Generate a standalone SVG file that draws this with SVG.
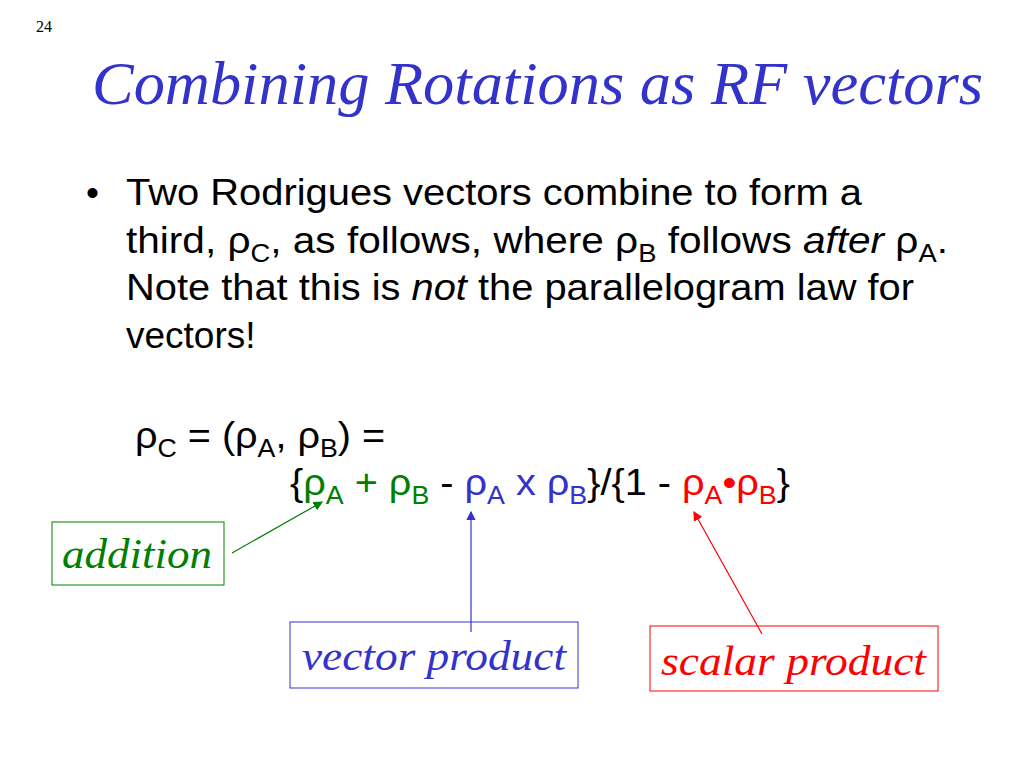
<svg xmlns="http://www.w3.org/2000/svg" width="1024" height="768" viewBox="0 0 1024 768">
<style>
.s{font-family:"Liberation Sans",Arial,sans-serif;font-size:37px;fill:#000}
.r{font-family:"Liberation Serif","Times New Roman",serif;font-style:italic}
.sub{font-size:25px}
.g{fill:#008000}.b{fill:#3333CC}.red{fill:#FF0000}
</style>
<defs>
<marker id="ag" markerWidth="8" markerHeight="8" refX="7" refY="4" orient="auto"><path d="M0,0L8,4L0,8z" fill="#008000"/></marker>
<marker id="ab" markerWidth="8" markerHeight="8" refX="7" refY="4" orient="auto"><path d="M0,0L8,4L0,8z" fill="#3333CC"/></marker>
<marker id="ar" markerWidth="8" markerHeight="8" refX="7" refY="4" orient="auto"><path d="M0,0L8,4L0,8z" fill="#FF0000"/></marker>
</defs>
<rect width="1024" height="768" fill="#fff"/>
<text x="36" y="32" font-family="Liberation Serif,serif" font-size="16">24</text>
<text x="92" y="104" class="r" font-size="61" fill="#3333CC" textLength="891" lengthAdjust="spacingAndGlyphs">Combining Rotations as RF vectors</text>
<g id="bullet">
<text x="86" y="205" class="s">•</text>
<text x="126" y="205" class="s" textLength="736" lengthAdjust="spacingAndGlyphs">Two Rodrigues vectors combine to form a</text>
<text x="126" y="253" class="s" textLength="822" lengthAdjust="spacingAndGlyphs">third, ρ<tspan class="sub" dy="9">C</tspan><tspan dy="-9">, as follows, where ρ</tspan><tspan class="sub" dy="9">B</tspan><tspan dy="-9"> follows </tspan><tspan font-style="italic">after</tspan> ρ<tspan class="sub" dy="9">A</tspan><tspan dy="-9">.</tspan></text>
<text x="126" y="300" class="s" textLength="788" lengthAdjust="spacingAndGlyphs">Note that this is <tspan font-style="italic">not</tspan> the parallelogram law for</text>
<text x="126" y="348" class="s">vectors!</text>
</g>
<g id="formula">
<text x="135" y="448" class="s" textLength="250" lengthAdjust="spacingAndGlyphs">ρ<tspan class="sub" dy="9">C</tspan><tspan dy="-9"> = (ρ</tspan><tspan class="sub" dy="9">A</tspan><tspan dy="-9">, ρ</tspan><tspan class="sub" dy="9">B</tspan><tspan dy="-9">) =</tspan></text>
<text x="290" y="495" class="s" textLength="500" lengthAdjust="spacingAndGlyphs">{<tspan class="g">ρ</tspan><tspan class="g sub" dy="9">A</tspan><tspan class="g" dy="-9"> + ρ</tspan><tspan class="g sub" dy="9">B</tspan><tspan dy="-9"> - </tspan><tspan class="b">ρ</tspan><tspan class="b sub" dy="9">A</tspan><tspan class="b" dy="-9"> x ρ</tspan><tspan class="b sub" dy="9">B</tspan><tspan dy="-9">}/{1 - </tspan><tspan class="red">ρ</tspan><tspan class="red sub" dy="9">A</tspan><tspan class="red" dy="-9">•ρ</tspan><tspan class="red sub" dy="9">B</tspan><tspan dy="-9">}</tspan></text>
</g>
<g id="addition"><rect x="52" y="522" width="172" height="63" fill="none" stroke="#008000"/><text x="62" y="568" class="r" font-size="42" fill="#008000" textLength="150" lengthAdjust="spacingAndGlyphs">addition</text></g>
<g id="vector"><rect x="290" y="622" width="288" height="66" fill="none" stroke="#3333CC"/><text x="302" y="670" class="r" font-size="42" fill="#3333CC" textLength="264" lengthAdjust="spacingAndGlyphs">vector product</text></g>
<g id="scalar"><rect x="650" y="626" width="288" height="65" fill="none" stroke="#FF0000"/><text x="661" y="675" class="r" font-size="42" fill="#FF0000" textLength="265" lengthAdjust="spacingAndGlyphs">scalar product</text></g>
<g id="connectors" stroke-width="1.2">
<line x1="232" y1="553" x2="322" y2="502" stroke="#008000" marker-end="url(#ag)"/>
<line x1="471" y1="632" x2="471" y2="512" stroke="#3333CC" marker-end="url(#ab)"/>
<line x1="762" y1="634" x2="694" y2="512" stroke="#FF0000" marker-end="url(#ar)"/>
</g>
</svg>
